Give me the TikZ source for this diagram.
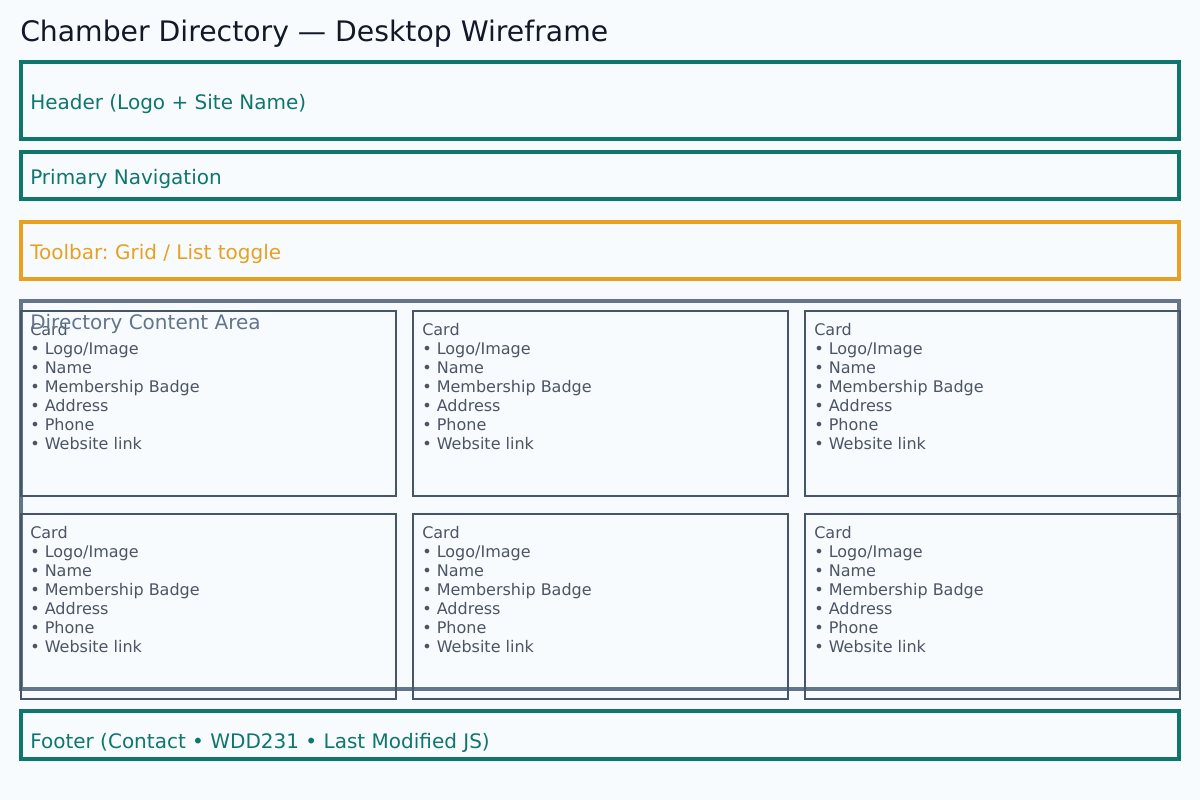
\documentclass[tikz,border=0pt]{standalone}
\usepackage{fontspec}
\setmainfont{DejaVu Sans}
\frenchspacing
\definecolor{bg}{HTML}{F8FBFE}
\definecolor{titlec}{HTML}{111827}
\definecolor{teal}{HTML}{0F766E}
\definecolor{amber}{HTML}{E8A020}
\definecolor{slatearea}{HTML}{64748B}
\definecolor{cardline}{HTML}{475569}
\definecolor{cardtext}{HTML}{4B5563}
\tikzset{
  sectionbox/.style={draw=#1, line width=2.3pt},
  cardbox/.style={draw=cardline, line width=2pt},
  sectionlabel/.style={anchor=base west, inner sep=0pt, text=#1, font=\fontsize{15pt}{18pt}\selectfont},
  cardlabel/.style={anchor=base west, inner sep=0pt, text=cardtext, font=\fontsize{12pt}{14pt}\selectfont},
  titlelabel/.style={anchor=base west, inner sep=0pt, text=titlec, font=\fontsize{21.2pt}{25pt}\selectfont},
}
\newcommand{\wfcard}[3]{%
  % #1 = name, #2 = left x, #3 = top y
  \draw[cardbox] (#2,#3) rectangle (#2+375,#3+185);
  \coordinate (#1) at (#2+9,#3+24);
  \node[cardlabel] (#1-0) at (#1) {Card};
  \node[cardlabel] (#1-1) at ([yshift=-19*0.75pt]#1) {• Logo/Image};
  \node[cardlabel] (#1-2) at ([yshift=-38*0.75pt]#1) {• Name};
  \node[cardlabel] (#1-3) at ([yshift=-57*0.75pt]#1) {• Membership Badge};
  \node[cardlabel] (#1-4) at ([yshift=-76*0.75pt]#1) {• Address};
  \node[cardlabel] (#1-5) at ([yshift=-95*0.75pt]#1) {• Phone};
  \node[cardlabel] (#1-6) at ([yshift=-114*0.75pt]#1) {• Website link};
}
\begin{document}
\begin{tikzpicture}[x=0.75pt, y=-0.75pt]
  \fill[bg] (0,0) rectangle (1200,800);
  \useasboundingbox (0,0) rectangle (1200,800);

  \node[titlelabel] (title) at (20,41) {Chamber Directory — Desktop Wireframe};

  \draw[sectionbox=teal] (21,62) rectangle (1179,139);
  \node[sectionlabel=teal] (header) at (30,109) {Header (Logo + Site Name)};

  \draw[sectionbox=teal] (21,152) rectangle (1179,199);
  \node[sectionlabel=teal] (nav) at (30,184) {Primary Navigation};

  \draw[sectionbox=amber] (21,222) rectangle (1179,279);
  \node[sectionlabel=amber] (toolbar) at (30,259) {Toolbar: Grid / List toggle};

  \draw[sectionbox=slatearea] (21,301) rectangle (1179,689);

  \wfcard{c11}{21}{311}
  \wfcard{c12}{413}{311}
  \wfcard{c13}{805}{311}
  \wfcard{c21}{21}{514}
  \wfcard{c22}{413}{514}
  \wfcard{c23}{805}{514}

  \node[sectionlabel=slatearea] (area) at (30,329) {Directory Content Area};

  \draw[sectionbox=teal] (21,711) rectangle (1179,759);
  \node[sectionlabel=teal] (footer) at (30,748) {Footer (Contact • WDD231 • Last Modified JS)};
\end{tikzpicture}
\end{document}
